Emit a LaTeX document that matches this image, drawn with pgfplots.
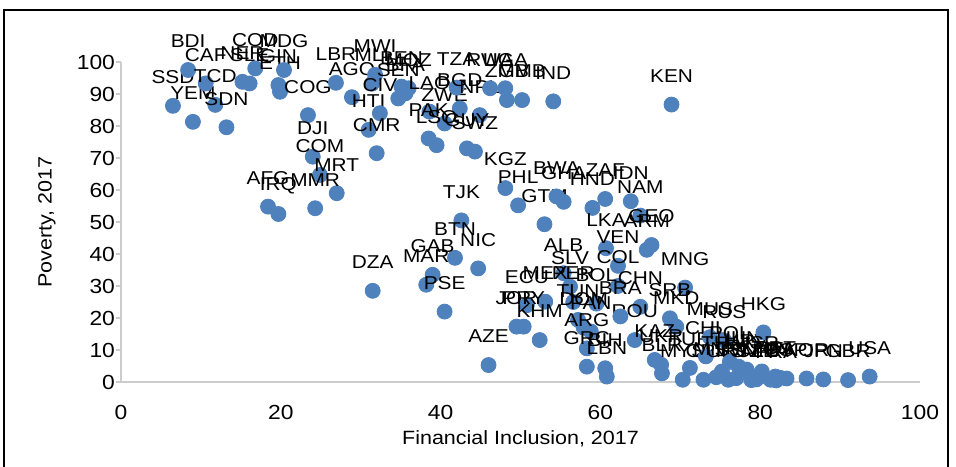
\documentclass[border=0pt]{standalone}
\usepackage{fontspec}
\setmainfont{Liberation Sans}[FakeStretch=1.12]
\usepackage{pgfplots}
\pgfplotsset{compat=1.18}
\usepackage{pgfplotstable}
\definecolor{ptblue}{HTML}{4F81BD}

% financial inclusion vs poverty, 2017
\pgfplotstableread{
x y c
6.5 86.3 SSD
8.4 97.5 BDI
9.0 81.3 YEM
10.6 93.3 CAF
11.8 86.6 TCD
13.2 79.6 SDN
15.2 93.8 NER
16.1 93.3 SLE
16.8 98.0 COD
19.7 92.8 GIN
19.9 90.7 ETH
20.4 97.5 MDG
23.4 83.4 COG
24.0 70.4 DJI
24.9 64.7 COM
27.0 59.0 MRT
24.3 54.3 MMR
18.4 54.8 AFG
19.7 52.5 IRQ
26.9 93.5 LBR
28.9 89.0 AGO
31.0 78.8 HTI
31.8 96.0 MWI
31.4 93.2 MLI
32.4 84.0 CIV
32.0 71.5 CMR
35.1 92.3 BEN
36.0 91.8 MOZ
34.7 88.6 SEN
35.6 90.2 BFA
38.6 84.5 LAO
40.5 80.8 ZWE
42.0 92.0 TZA
42.4 85.5 BGD
44.9 83.4 NPL
46.2 91.8 RWA
48.1 91.8 UGA
48.3 88.1 ZMB
50.2 88.1 GMB
54.1 87.7 IND
68.9 86.7 KEN
38.5 76.1 PAK
39.5 74.0 LSO
43.3 73.0 GUY
44.3 72.0 SWZ
48.1 60.6 KGZ
49.7 55.2 PHL
42.6 50.5 TJK
53.0 49.3 GTM
54.5 58.0 BWA
55.4 56.3 GHA
59.0 54.4 HND
60.6 57.2 ZAF
63.8 56.5 IDN
65.0 52.0 NAM
60.7 41.8 LKA
65.8 41.3 ARM
66.4 42.8 GEO
62.2 36.3 VEN
41.8 38.8 BTN
44.7 35.5 NIC
39.0 33.5 GAB
38.2 30.4 MAR
40.5 22.0 PSE
31.5 28.5 DZA
46.0 5.3 AZE
55.4 34.0 ALB
56.2 29.8 SLV
62.2 30.0 COL
70.6 29.5 MNG
53.1 25.1 MEX
50.8 24.0 ECU
56.6 25.0 PER
59.5 24.5 BOL
65.0 23.5 CHN
49.5 17.3 JOR
50.4 17.3 PRY
52.4 13.1 KHM
57.2 19.4 TUN
57.9 17.0 DOM
58.8 15.8 PAN
58.3 10.5 ARG
58.3 4.8 GRC
60.6 4.3 BIH
60.8 1.7 LBN
64.3 13.1 ROU
62.5 20.5 BRA
68.7 19.9 SRB
69.5 17.3 MKD
66.8 6.9 KAZ
67.6 5.4 UKR
67.7 2.7 BLR
70.3 0.7 MYS
71.2 4.4 TUR
72.9 0.7 CRI
73.2 8.0 CHL
73.7 14.0 MUS
75.5 13.0 RUS
75.2 3.3 THA
74.5 1.5 MNE
76.0 0.7 URY
76.2 6.3 POL
77.0 1.2 SVN
77.3 4.8 HUN
78.3 3.9 HRV
78.9 0.6 SVK
79.5 0.8 CZE
80.0 1.7 LTU
80.4 15.5 HKG
80.2 3.3 ISR
81.3 0.7 LVA
81.9 1.7 PRT
82.0 0.5 FRA
82.5 1.3 ITA
83.3 1.1 ESP
85.8 1.1 KOR
87.9 0.8 JPN
91.0 0.6 GBR
93.7 1.7 USA
}\povdata

\begin{document}
\begin{tikzpicture}
\useasboundingbox (-60.5pt,-42pt) rectangle (417.5pt,191pt);
\draw[line width=0.8pt] (-58.5pt,-45pt) -- (-58.5pt,186pt) -- (413.5pt,186pt) -- (413.5pt,-45pt);
\begin{axis}[
  scale only axis, width=399.5pt, height=160pt,
  xmin=0, xmax=100, ymin=0, ymax=100,
  xtick={0,20,...,100}, ytick={0,10,...,100},
  axis lines*=left,
  axis line style={-, draw=gray!40, line width=0.8pt},
  tick align=outside, major tick length=2.5pt,
  xtick style={draw=none},
  ytick style={draw=gray!40, line width=0.8pt},
  tick label style={font=\fontsize{10.2}{12}\selectfont},
  /pgf/number format/assume math mode=true,
  xticklabel style={yshift=-5.5pt},
  yticklabel style={xshift=3pt},
  xlabel={Financial Inclusion, 2017},
  ylabel={Poverty, 2017},
  label style={font=\fontsize{9.6}{11}\selectfont},
  xlabel style={at={(axis description cs:0.5,-0.178)}, anchor=center},
  ylabel style={at={(axis description cs:-0.0926,0.5)}, anchor=center},
  clip=false,
]
\addplot[only marks, mark=*, mark size=3.75pt, draw=ptblue, fill=ptblue,
  nodes near coords, point meta=explicit symbolic,
  every node near coord/.append style={anchor=center, yshift=14.25pt, text=black,
    font=\fontsize{9.3}{11}\selectfont, inner sep=0pt}]
  table[x=x, y=y, meta=c] {\povdata};
\end{axis}
\end{tikzpicture}
\end{document}
